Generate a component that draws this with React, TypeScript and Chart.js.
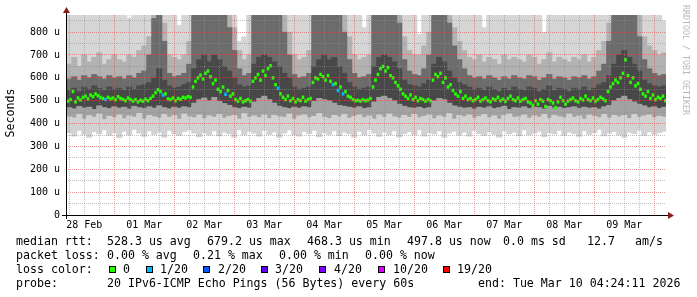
import React, { useEffect, useRef } from 'react';
import { Chart, registerables } from 'chart.js';

Chart.register(...registerables);

// time is measured in hours after 28 Feb 2026 00:00
const AXIS_START_H = 4.7;
const AXIS_END_H = 244.7;
const MEDIAN_START_H = 5.5;
const MEDIAN_STEP_H = 1;
const SMOKE_START_H = 6;
const SMOKE_STEP_H = 2;
const Y_MAX = 875;

const dayLabels = ['28 Feb', '01 Mar', '02 Mar', '03 Mar', '04 Mar', '05 Mar', '06 Mar', '07 Mar', '08 Mar', '09 Mar'];

// median rtt in microseconds, one value per hour
const medianRtt = [
  498, 505, 540, 495, 512, 503, 515, 520, 508, 525, 518, 530, 522, 515,
  510, 505, 515, 508, 512, 504, 518, 510, 506, 500, 512, 505,
  498, 505, 495, 502, 498, 507, 500, 510,
  520, 535, 548, 540, 525, 530,
  508, 505, 512, 500, 510, 506, 515, 512, 518, 515,
  560, 585, 600, 612, 595, 620, 630, 605, 575, 590,
  550, 540, 560, 528, 545, 520, 530,
  505, 498, 510, 495, 500, 505, 498,
  585, 600, 615, 590, 630, 610, 640, 653,
  600, 570, 555,
  530, 515, 505, 520, 500, 510, 495, 505, 500, 515, 498, 505, 510,
  580, 600, 595, 615, 605, 590, 610, 585,
  570, 575, 545, 560, 530, 540, 520, 515,
  505, 500, 502, 498, 505, 500, 503, 510,
  560, 590, 615, 640, 650, 630, 645, 610,
  600, 580, 565, 550,
  530, 520, 510, 525, 505, 515, 500, 510, 505, 498, 505, 500,
  590, 615, 605, 620, 580, 600, 560, 570,
  545, 530, 520, 540, 510, 520, 505,
  510, 500, 505, 515, 498, 505, 512, 500, 495, 508,
  503, 515, 500, 507, 498, 510, 520, 505, 500, 512,
  498, 505, 510, 495, 490, 480, 500, 485, 505, 498,
  475, 505, 500, 490, 470, 495, 515, 500, 485, 498,
  505, 512, 500, 495, 510, 503, 520, 505, 500, 512,
  498, 505, 515, 508, 500,
  540, 560, 575, 590, 580, 600, 620,
  679,
  610, 580, 600, 565, 575, 550,
  530, 520, 540, 510, 525, 505, 515, 510, 520, 500,
];

// hours (index into medianRtt) where 1 of 20 pings was lost
const lossOneOf20Hours = [15, 38, 63, 84, 106, 108, 110];

// smoke percentiles in microseconds, one value per two hours
const smokeMin = [
  360, 345, 370, 352, 340, 365, 355, 372, 348, 360,
  338, 366, 350, 374, 358, 344, 368, 352, 362, 340,
  370, 355, 348, 365, 372, 358, 342, 360, 350, 368,
  346, 362, 355, 340, 372, 350, 366, 358, 345, 370,
  352, 363, 340, 358, 372, 350, 345, 365, 356, 370,
  342, 360, 352, 368, 347, 362, 355, 340, 366, 350,
  373, 358, 344, 362, 350, 368, 341, 356, 364, 350,
  372, 345, 360, 354, 368, 340, 358, 366, 350, 362,
  345, 370, 356, 348, 364, 352, 340, 368, 355, 362,
  346, 372, 350, 358, 366, 342, 360, 354, 370, 348,
  362, 356, 344, 368, 352, 360, 374, 346, 358, 365,
  350, 340, 362, 356, 370, 348, 364, 352, 360, 366,
];
const smokeLow1 = [
  430, 425, 440, 420, 435, 428, 442, 418, 432, 426,
  438, 422, 434, 428, 445, 420, 436, 430, 424, 440,
  428, 435, 420, 442, 430, 426, 438, 422, 434, 428,
  440, 424, 432, 436, 420, 444, 428, 434, 426, 438,
  422, 436, 430, 428, 442, 420, 434, 438, 426, 432,
  444, 428, 422, 436, 430, 440, 424, 432, 438, 426,
  434, 420, 438, 428, 442, 430, 424, 436, 428, 440,
  426, 432, 438, 422, 434, 428, 444, 420, 436, 430,
  438, 424, 432, 440, 426, 434, 420, 436, 442, 428,
  430, 438, 424, 434, 428, 440, 422, 436, 430, 426,
  442, 428, 434, 420, 438, 432, 426, 440, 424, 436,
  430, 436, 422, 440, 428, 434, 438, 426, 432, 428,
];
const smokeLow2 = [
  470, 465, 475, 468, 472, 462, 478, 470, 466, 474,
  468, 472, 464, 476, 470, 466, 474, 468, 478, 470,
  465, 472, 468, 474, 470, 490, 505, 512, 500, 515,
  498, 488, 480, 470, 466, 472, 468, 495, 510, 520,
  505, 490, 476, 470, 466, 472, 468, 474, 470, 498,
  510, 505, 500, 490, 480, 476, 472, 468, 474, 466,
  470, 495, 515, 520, 510, 500, 485, 476, 470, 468,
  472, 466, 470, 500, 510, 505, 490, 478, 472, 468,
  470, 464, 472, 468, 474, 466, 470, 476, 462, 470,
  468, 474, 466, 472, 470, 464, 476, 468, 472, 466,
  470, 474, 466, 472, 468, 470, 464, 474, 480, 500,
  510, 520, 505, 495, 485, 478, 470, 474, 466, 472,
];
const smokeHigh1 = [
  545, 555, 540, 560, 550, 565, 555, 545, 560, 550,
  555, 545, 560, 550, 565, 570, 580, 600, 640, 590,
  565, 555, 560, 570, 580, 640, 680, 700, 670, 700,
  680, 650, 630, 600, 570, 560, 565, 660, 690, 700,
  690, 670, 650, 620, 600, 560, 550, 555, 560, 650,
  680, 700, 680, 690, 650, 620, 580, 560, 550, 555,
  560, 650, 690, 700, 690, 670, 640, 590, 570, 565,
  560, 575, 590, 660, 690, 670, 630, 600, 580, 570,
  560, 550, 555, 545, 560, 550, 540, 555, 545, 560,
  550, 545, 560, 555, 540, 550, 565, 545, 555, 550,
  540, 555, 550, 560, 545, 555, 570, 580, 610, 660,
  700, 720, 690, 660, 630, 590, 575, 565, 560, 565,
];
const smokeHigh2 = [
  595, 605, 590, 610, 600, 615, 605, 595, 610, 600,
  605, 595, 610, 600, 620, 630, 700, 860, 900, 760,
  620, 605, 610, 620, 660, 900, 900, 900, 900, 900,
  900, 880, 820, 720, 640, 610, 620, 900, 900, 900,
  900, 900, 880, 800, 700, 615, 600, 605, 620, 900,
  900, 900, 900, 900, 880, 800, 680, 620, 600, 605,
  615, 900, 900, 900, 900, 900, 840, 680, 630, 615,
  610, 640, 700, 900, 900, 900, 840, 740, 680, 640,
  610, 600, 605, 595, 610, 600, 590, 605, 595, 610,
  600, 595, 610, 605, 590, 600, 615, 595, 605, 600,
  590, 605, 600, 610, 595, 605, 630, 660, 760, 900,
  900, 900, 900, 880, 780, 680, 640, 620, 610, 615,
];
const smokeHigh3 = [
  660, 690, 650, 700, 670, 690, 710, 660, 680, 700,
  680, 670, 700, 690, 720, 740, 780, 900, 900, 840,
  700, 690, 680, 700, 760, 900, 900, 900, 900, 900,
  900, 900, 900, 820, 720, 680, 700, 900, 900, 900,
  900, 900, 900, 900, 800, 700, 680, 690, 720, 900,
  900, 900, 900, 900, 900, 880, 780, 700, 680, 690,
  700, 900, 900, 900, 900, 900, 900, 780, 720, 700,
  700, 740, 800, 900, 900, 900, 900, 820, 760, 720,
  690, 680, 700, 670, 690, 680, 660, 700, 680, 690,
  680, 670, 700, 690, 660, 680, 710, 670, 690, 680,
  670, 690, 680, 700, 670, 690, 720, 760, 840, 900,
  900, 900, 900, 900, 880, 780, 740, 720, 700, 710,
];
const smokeMax = [
  900, 900, 900, 900, 900, 900, 900, 900, 900, 900,
  900, 900, 860, 900, 900, 900, 900, 900, 900, 900,
  900, 900, 830, 900, 900, 900, 900, 900, 900, 900,
  900, 900, 900, 900, 760, 780, 900, 900, 900, 900,
  900, 900, 900, 900, 900, 900, 900, 900, 900, 900,
  900, 900, 900, 900, 900, 900, 900, 900, 900, 820,
  900, 900, 900, 900, 900, 900, 900, 900, 900, 900,
  790, 900, 900, 900, 900, 900, 900, 900, 900, 900,
  900, 900, 900, 820, 900, 900, 900, 900, 900, 900,
  900, 900, 900, 900, 900, 800, 900, 900, 900, 900,
  900, 900, 900, 900, 900, 900, 900, 900, 900, 900,
  900, 900, 900, 900, 900, 900, 900, 900, 900, 850,
];

const LOSS_COLORS: Record<number, string> = {
  0: '#26ff00', 1: '#00b8ff', 2: '#0059ff', 3: '#5e00ff', 4: '#7e00ff', 10: '#dd00ff', 19: '#ff0000',
};
const lossLegendKeys = [0, 1, 2, 3, 4, 10, 19];
const lossLegendText = ['0', '1/20', '2/20', '3/20', '4/20', '10/20', '19/20'];

const GRID_MAJOR = 'rgba(225, 70, 70, 0.55)';
const GRID_MINOR = 'rgba(140, 140, 140, 0.55)';
const ARROW = '#8c1c1c';
const MONO = '"DejaVu Sans Mono", monospace';

const lossPerHour = medianRtt.map((_, i) => (lossOneOf20Hours.includes(i) ? 1 : 0));

const smokeBands = [
  { lo: smokeMin, hi: smokeLow1, color: '#d2d2d2' },
  { lo: smokeLow1, hi: smokeLow2, color: '#a2a2a2' },
  { lo: smokeLow2, hi: smokeHigh1, color: '#484848' },
  { lo: smokeHigh1, hi: smokeHigh2, color: '#6c6c6c' },
  { lo: smokeHigh2, hi: smokeHigh3, color: '#b2b2b2' },
  { lo: smokeHigh3, hi: smokeMax, color: '#d6d6d6' },
];

const overlayPlugin = {
  id: 'smokepingOverlay',
  beforeDraw(chart: any) {
    const { ctx } = chart;
    ctx.save();
    ctx.fillStyle = '#ffffff';
    ctx.fillRect(0, 0, chart.width, chart.height);
    ctx.restore();
  },
  afterDraw(chart: any) {
    const { ctx, chartArea: a } = chart;
    ctx.save();
    // axes
    ctx.strokeStyle = '#000';
    ctx.lineWidth = 1;
    ctx.beginPath();
    ctx.moveTo(a.left - 4, a.bottom + 0.5);
    ctx.lineTo(a.right + 3, a.bottom + 0.5);
    ctx.moveTo(a.left + 0.5, a.bottom + 4);
    ctx.lineTo(a.left + 0.5, a.top - 3);
    ctx.stroke();
    // arrows
    ctx.fillStyle = ARROW;
    ctx.beginPath();
    ctx.moveTo(a.left + 0.5 - 3.5, a.top - 2);
    ctx.lineTo(a.left + 0.5 + 3.5, a.top - 2);
    ctx.lineTo(a.left + 0.5, a.top - 8);
    ctx.closePath();
    ctx.fill();
    ctx.beginPath();
    ctx.moveTo(a.right + 2, a.bottom + 0.5 - 3.5);
    ctx.lineTo(a.right + 2, a.bottom + 0.5 + 3.5);
    ctx.lineTo(a.right + 8, a.bottom + 0.5);
    ctx.closePath();
    ctx.fill();

    // y axis title
    ctx.fillStyle = '#000';
    ctx.font = `11.6px ${MONO}`;
    ctx.save();
    ctx.translate(11, (a.top + a.bottom) / 2 - 2);
    ctx.rotate(-Math.PI / 2);
    ctx.textAlign = 'center';
    ctx.textBaseline = 'middle';
    ctx.fillText('Seconds', 0, 0);
    ctx.restore();

    // watermark
    ctx.save();
    ctx.fillStyle = '#b8b8b8';
    ctx.font = `8.3px ${MONO}`;
    ctx.translate(685, 60);
    ctx.rotate(Math.PI / 2);
    ctx.textAlign = 'center';
    ctx.textBaseline = 'middle';
    ctx.fillText('RRDTOOL / TOBI OETIKER', 0, 0);
    ctx.restore();

    // legend
    ctx.font = `11.6px ${MONO}`;
    ctx.textAlign = 'left';
    ctx.textBaseline = 'alphabetic';
    ctx.fillStyle = '#000';
    const rows: [number, [number, string][]][] = [
      [245, [[16, 'median rtt:'], [107, '528.3 us avg'], [207, '679.2 us max'], [307, '468.3 us min'], [407, '497.8 us now'], [503, '0.0 ms sd'], [587, '12.7'], [635, 'am/s']]],
      [259, [[16, 'packet loss:'], [107, '0.00 % avg'], [193, '0.21 % max'], [279, '0.00 % min'], [365, '0.00 % now']]],
      [273, [[16, 'loss color:']]],
      [287, [[16, 'probe:'], [107, '20 IPv6-ICMP Echo Pings (56 Bytes) every 60s'], [478, 'end: Tue Mar 10 04:24:11 2026']]],
    ];
    rows.forEach(([y, items]) => items.forEach(([x, t]) => ctx.fillText(t, x, y)));
    const boxX = [109, 146, 203, 261, 319, 378, 443];
    const textX = [123, 160, 218, 275, 334, 393, 457];
    lossLegendKeys.forEach((k, i) => {
      ctx.fillStyle = LOSS_COLORS[k];
      ctx.fillRect(boxX[i], 266, 7, 7);
      ctx.strokeStyle = '#000';
      ctx.strokeRect(boxX[i] + 0.5, 266.5, 6, 6);
      ctx.fillStyle = '#000';
      ctx.fillText(lossLegendText[i], textX[i], 273);
    });
    ctx.restore();
  },
};

export default function App() {
  const ref = useRef<HTMLCanvasElement>(null);
  useEffect(() => {
    const smokeDatasets = smokeBands.map((b, k) => ({
      label: `smoke${k}`,
      data: b.lo.map((lo, j) => ({ x: SMOKE_START_H + j * SMOKE_STEP_H, y: [lo, b.hi[j]] })),
      backgroundColor: b.color,
      barThickness: 5.4,
      grouped: false,
      order: 2 + k,
      clip: 0,
    }));
    const medianDataset = {
      label: 'median',
      data: medianRtt.map((v, i) => ({ x: MEDIAN_START_H + i * MEDIAN_STEP_H, y: [v - 6, v + 6] })),
      backgroundColor: (c: any) => LOSS_COLORS[lossPerHour[c.dataIndex] ?? 0],
      barThickness: 2,
      grouped: false,
      order: 0,
      clip: 0,
    };
    const chart = new Chart(ref.current as HTMLCanvasElement, {
      type: 'bar',
      data: { datasets: [medianDataset as any, ...(smokeDatasets as any[])] },
      options: {
        responsive: false,
        animation: false,
        devicePixelRatio: 1,
        layout: { padding: { left: 0, top: 15, right: 31, bottom: 0 } },
        plugins: { legend: { display: false }, tooltip: { enabled: false } },
        scales: {
          x: {
            type: 'linear',
            min: AXIS_START_H,
            max: AXIS_END_H,
            offset: false,
            afterBuildTicks: (scale: any) => {
              const t = [];
              for (let h = 6; h <= 240; h += 6) t.push({ value: h });
              scale.ticks = t;
            },
            afterFit: (scale: any) => { scale.height = 82; },
            grid: {
              z: 1,
              offset: false,
              drawTicks: false,
              color: (c: any) => (c.tick && c.tick.value % 24 === 0 ? GRID_MAJOR : GRID_MINOR),
              lineWidth: 1,
            },
            border: { display: false, dash: [1, 1] },
            ticks: {
              autoSkip: false,
              maxRotation: 0,
              minRotation: 0,
              padding: 4,
              color: '#000',
              font: { family: MONO, size: 10 },
              callback: (v: any) => {
                const h = Number(v);
                return h % 24 === 12 ? dayLabels[Math.floor(h / 24)] : '';
              },
            },
          },
          y: {
            type: 'linear',
            min: 0,
            max: Y_MAX,
            afterFit: (scale: any) => { scale.width = 66; },
            grid: {
              z: 1,
              drawTicks: false,
              color: (c: any) => (c.tick && c.tick.value % 100 === 0 ? GRID_MAJOR : GRID_MINOR),
              lineWidth: 1,
            },
            border: { display: false, dash: [1, 1] },
            ticks: {
              stepSize: 50,
              includeBounds: false,
              autoSkip: false,
              padding: 6,
              color: '#000',
              font: { family: MONO, size: 10 },
              callback: (v: any) => {
                const n = Number(v);
                if (n % 100 !== 0) return '';
                return n === 0 ? '0' : `${n} u`;
              },
            },
          },
        },
      },
      plugins: [overlayPlugin],
    } as any);
    return () => chart.destroy();
  }, []);
  return (
    <div style={{ position: 'absolute', left: 0, top: 0, width: 697, height: 297, background: '#fff' }}>
      <canvas ref={ref} width={697} height={297} style={{ width: 697, height: 297, display: 'block' }} />
    </div>
  );
}
